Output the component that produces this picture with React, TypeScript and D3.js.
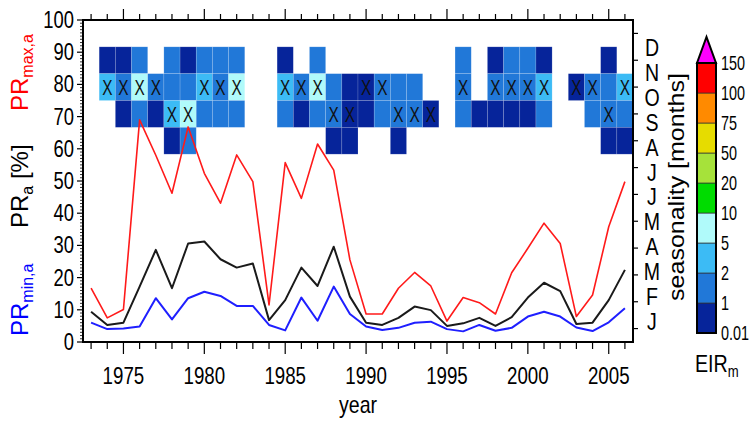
import { useEffect, useRef } from 'react';
import * as d3 from 'd3';

// years on the x axis
const years = [1973, 1974, 1975, 1976, 1977, 1978, 1979, 1980, 1981, 1982, 1983, 1984,
  1985, 1986, 1987, 1988, 1989, 1990, 1991, 1992, 1993, 1994, 1995, 1996, 1997, 1998,
  1999, 2000, 2001, 2002, 2003, 2004, 2005, 2006];

// annual parasite rates [%]
const prMax = [16.7, 7.5, 10.1, 69, 58, 46.2, 66.8, 52.4, 43.1, 58.1, 49.8, 11.5, 55.7, 44.6,
  61.5, 53.4, 25.5, 8.7, 8.7, 16.7, 21.6, 17.4, 6.5, 13.8, 12.2, 8.7, 21.5, 29.1, 36.9, 30.6,
  7.9, 14.6, 35.8, 49.8];
const prMean = [9.4, 5.3, 6.0, 17.2, 28.6, 16.7, 30.6, 31.2, 25.7, 23.1, 24.4, 6.8, 13.0, 23.1,
  17.4, 29.6, 14.1, 6.0, 5.3, 7.5, 11.0, 9.9, 5.0, 5.8, 7.5, 5.0, 7.7, 13.8, 18.4, 15.8, 5.6,
  6.0, 13.0, 22.4];
const prMin = [6.0, 4.0, 4.2, 4.8, 13.6, 7.0, 13.6, 15.6, 14.3, 11.2, 11.2, 5.3, 3.6, 13.8, 6.6,
  17.2, 8.7, 4.8, 3.7, 4.4, 6.0, 6.3, 4.0, 3.3, 5.3, 3.5, 4.4, 7.9, 9.4, 7.9, 4.5, 3.4, 6.1, 10.5];

// monthly EIR class per year (index into eirColors, null = no value)
const eirNov = [null, 0, 0, 1, null, 1, 0, 1, 1, 1, null, null, 0, null, 1, null, null, null,
  null, null, null, null, null, 1, null, 0, 1, 1, 0, null, null, null, 0, null];
const eirOct = [null, 2, 1, 3, 1, 1, 1, 2, 1, 3, null, null, 2, 1, 3, 1, 0, 0, 1, 1, 1, null,
  null, 1, null, 1, 1, 1, 2, null, 0, 1, 1, 2];
const eirSep = [null, null, 0, 1, 0, 2, 3, 1, 1, 1, null, null, 1, 0, 1, 1, 0, 0, 1, 1, 1, 0,
  null, 1, 0, 0, 0, 0, 1, null, null, 1, 1, 1];
const eirAug = [null, null, null, null, null, 0, 1, null, null, null, null, null, null, null,
  null, 0, 0, null, null, 0, null, null, null, null, null, null, null, null, null, null, null,
  null, 0, 0];
// months marked with an X
const markOct = [0, 1, 1, 1, 1, 0, 0, 1, 1, 1, 0, 0, 1, 1, 1, 0, 0, 1, 1, 0, 0, 0, 0, 1, 0, 1,
  1, 1, 1, 0, 1, 1, 0, 1];
const markSep = [0, 0, 0, 0, 0, 1, 1, 0, 0, 0, 0, 0, 0, 0, 0, 1, 1, 0, 0, 1, 1, 1, 0, 0, 0, 0,
  0, 0, 0, 0, 0, 0, 1, 0];

const monthLabels = ['J', 'F', 'M', 'A', 'M', 'J', 'J', 'A', 'S', 'O', 'N', 'D'];
const eirTicks = ['0.01', '1', '2', '5', '10', '20', '50', '75', '100', '150'];
const eirColors = ['#06249a', '#2178d8', '#3cbbf5', '#b0fafa', '#00dc00', '#a6e23a',
  '#e6dc00', '#ff8a00', '#ff0000'];

const FONT = 'Liberation Sans, Arial, Helvetica, sans-serif';

function App() {
  const svgRef = useRef<SVGSVGElement>(null);

  useEffect(() => {
    if (!svgRef.current) return;
    const svg = d3.select(svgRef.current);
    svg.selectAll('*').remove();

    const x = d3.scaleLinear().domain([1972.5, 2006.5]).range([83, 633]);
    const y = d3.scaleLinear().domain([0, 100]).range([342, 20]);
    const month = d3.scaleBand<number>().domain(d3.range(12)).range([342, 20]);
    const monthText = d3.scalePoint<number>().domain(d3.range(12)).range([322, 48]);

    // compressed text, like the narrow font of the original
    const txt = (x0: number, y0: number, s: string, size: number, anchor: string, sx = 0.8) =>
      svg.append('text')
        .attr('transform', `translate(${x0},${y0}) scale(${sx},1)`)
        .attr('text-anchor', anchor)
        .attr('font-family', FONT)
        .attr('font-size', size)
        .text(s);

    const lines: [number[], string, number][] = [
      [prMin, '#1f1fff', 2],
      [prMean, '#1a1a1a', 2],
      [prMax, '#ff1a1a', 1.6],
    ];

    // seasonality cells
    const rows = [
      { m: 10, eir: eirNov, mark: null },
      { m: 9, eir: eirOct, mark: markOct },
      { m: 8, eir: eirSep, mark: markSep },
      { m: 7, eir: eirAug, mark: null },
    ];
    rows.forEach(row => {
      row.eir.forEach((c, i) => {
        if (c === null) return;
        svg.append('rect')
          .attr('x', x(years[i] - 0.5))
          .attr('y', month(row.m)!)
          .attr('width', x(years[i] + 0.5) - x(years[i] - 0.5))
          .attr('height', month.bandwidth())
          .attr('fill', eirColors[c])
          .attr('stroke', '#ffffff')
          .attr('stroke-opacity', 0.25)
          .attr('stroke-width', 0.6);
      });
    });
    rows.forEach(row => {
      if (!row.mark) return;
      row.mark.forEach((mk, i) => {
        if (!mk) return;
        txt(x(years[i]), month(row.m)! + month.bandwidth() / 2 + 8, 'X', 22, 'middle', 0.7)
          .attr('fill', '#111');
      });
    });

    lines.forEach(([vals, color, w]) => {
      svg.append('path')
        .datum(vals)
        .attr('d', d3.line<number>().x((_, i) => x(years[i])).y(d => y(d)))
        .attr('fill', 'none')
        .attr('stroke', color)
        .attr('stroke-width', w)
        .attr('stroke-linejoin', 'round');
    });

    // frame
    svg.append('rect')
      .attr('x', 83).attr('y', 20).attr('width', 550).attr('height', 322)
      .attr('fill', 'none').attr('stroke', 'black').attr('stroke-width', 2);

    // bottom and top ticks
    const yearTicks = d3.range(1973, 2007);
    yearTicks.forEach(t => {
      const major = t % 5 === 0;
      svg.append('line').attr('x1', x(t)).attr('x2', x(t)).attr('y1', 342).attr('y2', 342 + (major ? 12 : 7))
        .attr('stroke', 'black').attr('stroke-width', 1.2);
      svg.append('line').attr('x1', x(t)).attr('x2', x(t)).attr('y1', 20).attr('y2', 20 - (major ? 11 : 6))
        .attr('stroke', 'black').attr('stroke-width', 1.2);
      if (major) txt(x(t), 384, String(t), 24, 'middle', 0.78);
    });
    txt(358, 413, 'year', 23, 'middle', 0.85);

    // left ticks
    d3.range(0, 101).forEach(v => {
      const major = v % 10 === 0;
      svg.append('line').attr('x1', 83).attr('x2', 83 - (major ? 6 : 3)).attr('y1', y(v)).attr('y2', y(v))
        .attr('stroke', 'black').attr('stroke-width', major ? 1.2 : 0.8);
      if (major) txt(74, y(v) + 8, String(v), 23, 'end', 0.8);
    });

    // right month ticks and labels
    d3.range(12).forEach(m => {
      const cy = month(m)! + month.bandwidth() / 2;
      svg.append('line').attr('x1', 633).attr('x2', 638).attr('y1', cy).attr('y2', cy)
        .attr('stroke', 'black').attr('stroke-width', 1.2);
      txt(652, monthText(m)! + 8, monthLabels[m], 23, 'middle', 0.85);
    });

    // rotated axis titles
    const rot = (x0: number, y0: number, parts: [string, number, number, string][]) => {
      const t = svg.append('text')
        .attr('transform', `translate(${x0},${y0}) rotate(-90)`)
        .attr('font-family', FONT);
      parts.forEach(([s, size, dy, fill]) => {
        t.append('tspan').attr('font-size', size).attr('dy', dy).attr('fill', fill).text(s);
      });
      return t;
    };
    rot(28, 111, [['PR', 24, 0, '#ff0000'], ['max,a', 16, 5, '#ff0000']]);
    rot(28, 228, [['PR', 24, 0, '#000'], ['a', 16, 5, '#000'], [' [%]', 24, -5, '#000']]);
    rot(28, 336, [['PR', 24, 0, '#0000ff'], ['min,a', 16, 5, '#0000ff']]);
    svg.append('text')
      .attr('transform', 'translate(684,187) rotate(-90) scale(1,0.85)')
      .attr('text-anchor', 'middle')
      .attr('font-family', FONT)
      .attr('font-size', 25)
      .text('seasonality [months]');

    // colour bar
    const cb = d3.scaleLinear().domain([0, 9]).range([333, 63]);
    eirColors.forEach((c, i) => {
      svg.append('rect')
        .attr('x', 697).attr('y', cb(i + 1)).attr('width', 19).attr('height', cb(i) - cb(i + 1))
        .attr('fill', c).attr('stroke', '#333').attr('stroke-width', 0.7);
    });
    svg.append('path')
      .attr('d', `M697,${cb(9)}L716,${cb(9)}L706.5,${cb(9) - 26}Z`)
      .attr('fill', '#ff00ff').attr('stroke', 'black').attr('stroke-width', 2)
      .attr('stroke-linejoin', 'miter');
    svg.append('rect')
      .attr('x', 697).attr('y', cb(9)).attr('width', 19).attr('height', cb(0) - cb(9))
      .attr('fill', 'none').attr('stroke', 'black').attr('stroke-width', 2);
    eirTicks.forEach((s, i) => {
      txt(721, cb(i) + 7, s, 20, 'start', 0.72);
    });
    const eir = svg.append('text')
      .attr('transform', 'translate(695,372) scale(0.82,1)')
      .attr('font-family', FONT);
    eir.append('tspan').attr('font-size', 24).text('EIR');
    eir.append('tspan').attr('font-size', 16).attr('dy', 5).text('m');

    return () => { d3.select(svgRef.current).selectAll('*').remove(); };
  }, []);

  return (
    <svg ref={svgRef} width={751} height={421}
      style={{ position: 'absolute', left: 0, top: 0, background: 'white' }} />
  );
}

export default App;
